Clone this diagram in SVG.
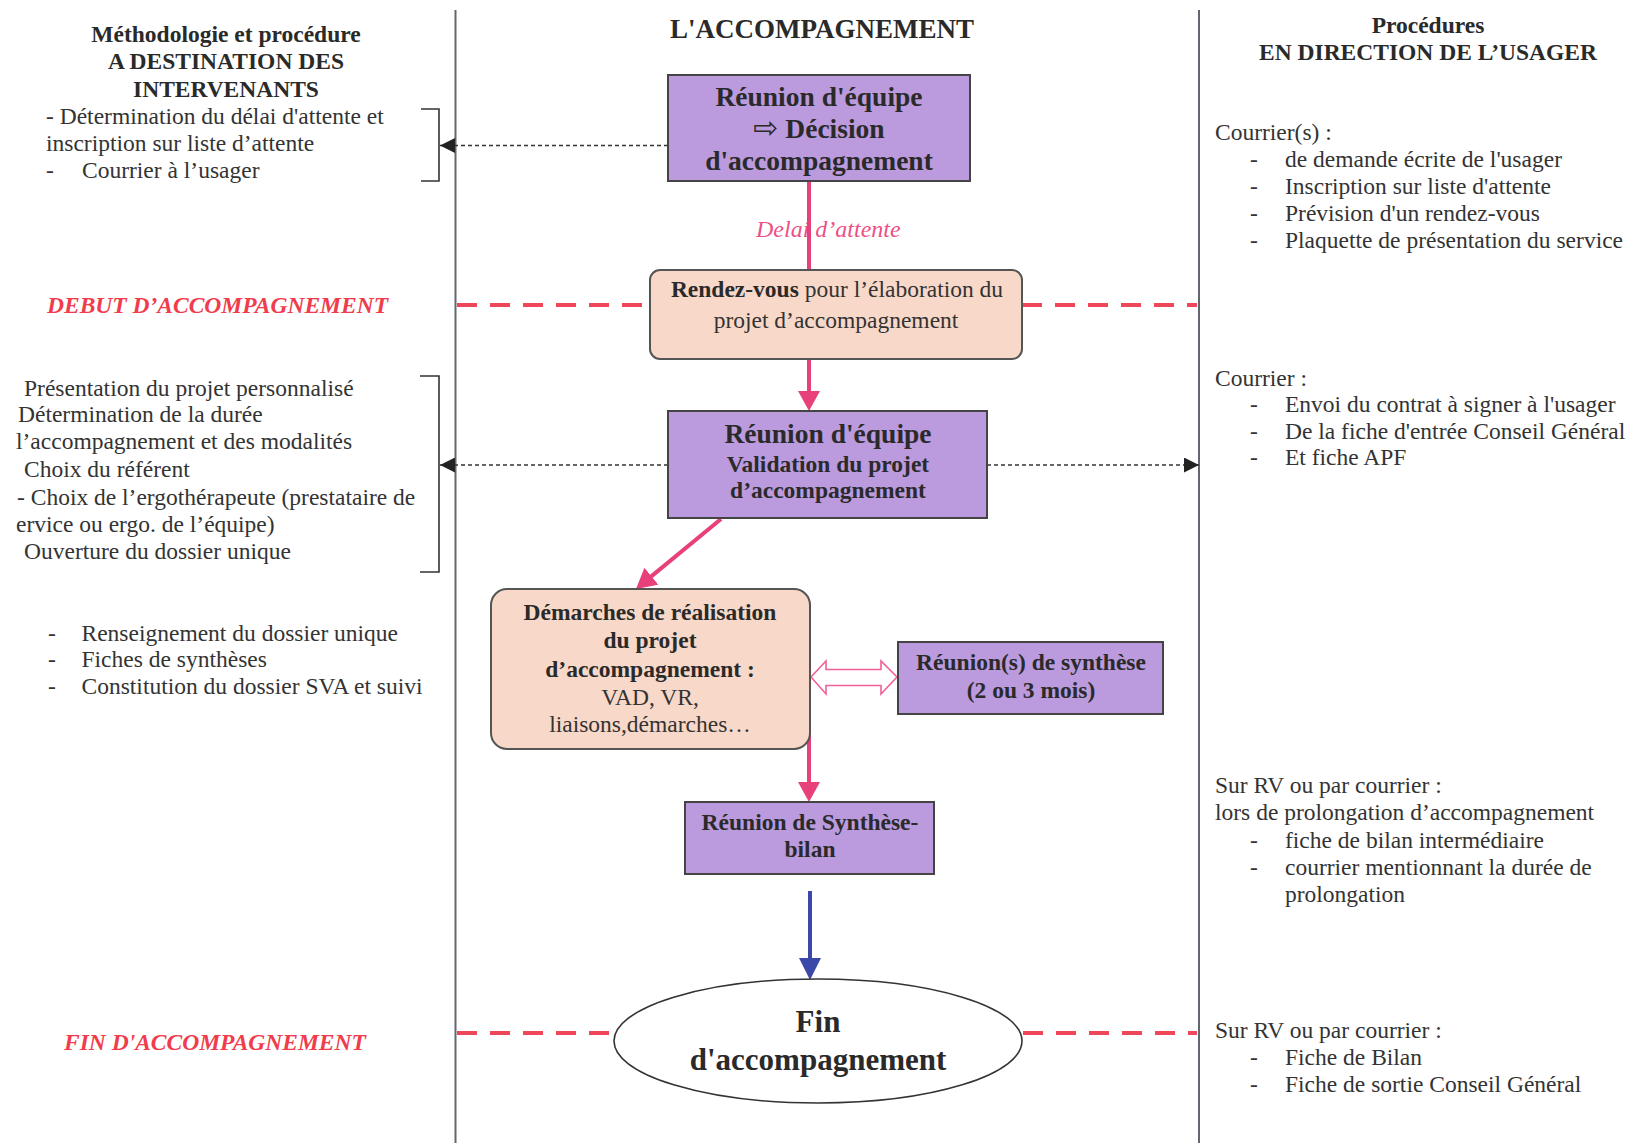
<svg xmlns="http://www.w3.org/2000/svg" width="1641" height="1143" viewBox="0 0 1641 1143">
<defs>
<style>
text{font-family:"Liberation Serif","Times New Roman",serif;fill:#333}
.r{font-size:23.5px}
.b{font-size:23.5px;font-weight:bold;fill:#2a2a2a}
.bb{font-size:27.5px;font-weight:bold;fill:#2a2a2a}
.c{text-anchor:middle}
.red{font-size:23.5px;font-weight:bold;font-style:italic;fill:#f03c4c}
.purple{fill:#bb9ade;stroke:#444;stroke-width:2}
.peach{fill:#f8d8c8;stroke:#555;stroke-width:2}
.lane{stroke:#62666f;stroke-width:2;fill:none}
.brk{stroke:#333;stroke-width:1.6;fill:none}
.dash{stroke:#333;stroke-width:1.5;stroke-dasharray:4 3;fill:none}
.reddash{stroke:#f0465a;stroke-width:4;stroke-dasharray:20 13;fill:none}
.pink{stroke:#e8407a;stroke-width:4;fill:none}
.blue{stroke:#3b48a8;stroke-width:4;fill:none}
</style>
<marker id="mPink" viewBox="0 0 20 22" refX="10" refY="11" markerWidth="20" markerHeight="22" markerUnits="userSpaceOnUse" orient="auto">
<path d="M0,0 L20,11 L0,22 z" fill="#e8407a"/>
</marker>
<marker id="mBlue" viewBox="0 0 22 22" refX="10" refY="11" markerWidth="22" markerHeight="22" markerUnits="userSpaceOnUse" orient="auto">
<path d="M0,0 L22,11 L0,22 z" fill="#3b48a8"/>
</marker>
<marker id="mBlack" viewBox="0 0 15 15" refX="15" refY="7.5" markerWidth="15" markerHeight="15" markerUnits="userSpaceOnUse" orient="auto">
<path d="M0,0 L15,7.5 L0,15 z" fill="#222"/>
</marker>
</defs>
<rect width="1641" height="1143" fill="#ffffff"/>

<g id="lanes">
<line class="lane" x1="455.5" y1="10" x2="455.5" y2="1143"/>
<line class="lane" x1="1199" y1="10" x2="1199" y2="1143"/>
</g>

<g id="left-column">
<text class="b c" x="226" y="42">Méthodologie et procédure</text>
<text class="b c" x="226" y="69">A DESTINATION DES</text>
<text class="b c" x="226" y="97">INTERVENANTS</text>
<text class="r" x="46" y="124">- Détermination du délai d'attente et</text>
<text class="r" x="46" y="151">inscription sur liste d’attente</text>
<text class="r" x="46" y="178">-</text>
<text class="r" x="82" y="178">Courrier à l’usager</text>
<path class="brk" d="M421,109 H439 V181 H421"/>

<text class="red" x="47" y="313">DEBUT D’ACCOMPAGNEMENT</text>

<text class="r" x="24" y="396">Présentation du projet personnalisé</text>
<text class="r" x="18" y="422">Détermination de la durée</text>
<text class="r" x="16" y="449">l’accompagnement et des modalités</text>
<text class="r" x="24" y="477">Choix du référent</text>
<text class="r" x="17" y="505">- Choix de l’ergothérapeute (prestataire de</text>
<text class="r" x="16" y="532">ervice ou ergo. de l’équipe)</text>
<text class="r" x="24" y="559">Ouverture du dossier unique</text>
<path class="brk" d="M420,376 H439 V572 H420"/>

<text class="r" x="48" y="641">-</text>
<text class="r" x="81.5" y="641">Renseignement du dossier unique</text>
<text class="r" x="48" y="667">-</text>
<text class="r" x="81.5" y="667">Fiches de synthèses</text>
<text class="r" x="48" y="694">-</text>
<text class="r" x="81.5" y="694">Constitution du dossier SVA et suivi</text>

<text class="red" x="64" y="1050">FIN D'ACCOMPAGNEMENT</text>
</g>

<g id="right-column">
<text class="b c" x="1428" y="33">Procédures</text>
<text class="b c" x="1428" y="60">EN DIRECTION DE L’USAGER</text>
<text class="r" x="1215" y="140">Courrier(s) :</text>
<text class="r" x="1250" y="167">-</text><text class="r" x="1285" y="167">de demande écrite de l'usager</text>
<text class="r" x="1250" y="194">-</text><text class="r" x="1285" y="194">Inscription sur liste d'attente</text>
<text class="r" x="1250" y="221">-</text><text class="r" x="1285" y="221">Prévision d'un rendez-vous</text>
<text class="r" x="1250" y="248">-</text><text class="r" x="1285" y="248">Plaquette de présentation du service</text>

<text class="r" x="1215" y="386">Courrier :</text>
<text class="r" x="1250" y="412">-</text><text class="r" x="1285" y="412">Envoi du contrat à signer à l'usager</text>
<text class="r" x="1250" y="439">-</text><text class="r" x="1285" y="439">De la fiche d'entrée Conseil Général</text>
<text class="r" x="1250" y="465">-</text><text class="r" x="1285" y="465">Et fiche APF</text>

<text class="r" x="1215" y="793">Sur RV ou par courrier :</text>
<text class="r" x="1215" y="820">lors de prolongation d’accompagnement</text>
<text class="r" x="1250" y="848">-</text><text class="r" x="1285" y="848">fiche de bilan intermédiaire</text>
<text class="r" x="1250" y="875">-</text><text class="r" x="1285" y="875">courrier mentionnant la durée de</text>
<text class="r" x="1285" y="902">prolongation</text>

<text class="r" x="1215" y="1038">Sur RV ou par courrier :</text>
<text class="r" x="1250" y="1065">-</text><text class="r" x="1285" y="1065">Fiche de Bilan</text>
<text class="r" x="1250" y="1092">-</text><text class="r" x="1285" y="1092">Fiche de sortie Conseil Général</text>
</g>

<text class="c" x="822" y="38" style="font-size:27px;font-weight:bold;fill:#2a2a2a">L'ACCOMPAGNEMENT</text>

<g id="connectors">
<line class="reddash" x1="457" y1="305" x2="650" y2="305"/>
<line class="reddash" x1="1022" y1="305" x2="1197" y2="305"/>
<line class="reddash" x1="457" y1="1033" x2="613" y2="1033"/>
<line class="reddash" x1="1023" y1="1033" x2="1197" y2="1033"/>
<line class="dash" x1="668" y1="145.5" x2="440" y2="145.5" marker-end="url(#mBlack)"/>
<line class="dash" x1="668" y1="465" x2="440" y2="465" marker-end="url(#mBlack)"/>
<line class="dash" x1="987" y1="465" x2="1199" y2="465" marker-end="url(#mBlack)"/>
<text x="756" y="237" style="font-size:24px;font-style:italic;fill:#ee4f86">Delai d’attente</text>
<line class="pink" x1="809" y1="181" x2="809" y2="270"/>
<line class="pink" x1="809" y1="359" x2="809" y2="401" marker-end="url(#mPink)"/>
<line class="pink" x1="721" y1="519" x2="643.7" y2="582.6" marker-end="url(#mPink)"/>
<line class="pink" x1="809" y1="732" x2="809" y2="792" marker-end="url(#mPink)"/>
<line class="blue" x1="810" y1="891" x2="810" y2="968" marker-end="url(#mBlue)"/>
<path d="M811,677 L826,661 L826,669.5 L881,669.5 L881,661 L897,677 L881,694 L881,685.5 L826,685.5 L826,694 z" fill="#ffffff" stroke="#f0609a" stroke-width="1.6"/>
</g>

<g id="n1">
<rect class="purple" x="668" y="75" width="302" height="106"/>
<text class="bb c" x="819" y="106">Réunion d'équipe</text>
<text class="bb c" x="819" y="138"><tspan style="font-family:'DejaVu Sans',sans-serif;font-size:30px;font-weight:normal">⇨</tspan> Décision</text>
<text class="bb c" x="819" y="170">d'accompagnement</text>
</g>

<g id="n2">
<rect class="peach" x="650" y="270" width="372" height="89" rx="10"/>
<text class="r c" x="837" y="297"><tspan font-weight="bold" fill="#2a2a2a">Rendez-vous</tspan> pour l’élaboration du</text>
<text class="r c" x="836" y="328">projet d’accompagnement</text>
</g>

<g id="n3">
<rect class="purple" x="668" y="411" width="319" height="107"/>
<text class="bb c" x="828" y="443">Réunion d'équipe</text>
<text class="b c" x="828" y="472">Validation du projet</text>
<text class="b c" x="828" y="498">d’accompagnement</text>
</g>

<g id="n4">
<rect class="peach" x="491" y="589" width="319" height="160" rx="16"/>
<text class="b c" x="650" y="620">Démarches de réalisation</text>
<text class="b c" x="650" y="648">du projet</text>
<text class="b c" x="650" y="677">d’accompagnement :</text>
<text class="r c" x="650" y="705">VAD, VR,</text>
<text class="r c" x="650" y="732">liaisons,démarches…</text>
</g>

<g id="n5">
<rect class="purple" x="898" y="642" width="265" height="72"/>
<text class="b c" x="1031" y="670">Réunion(s) de synthèse</text>
<text class="b c" x="1031" y="698">(2 ou 3 mois)</text>
</g>

<g id="n6">
<rect class="purple" x="685" y="802" width="249" height="72"/>
<text class="b c" x="810" y="830">Réunion de Synthèse-</text>
<text class="b c" x="810" y="857">bilan</text>
</g>

<g id="n7">
<ellipse cx="818" cy="1041" rx="204" ry="62" fill="#ffffff" stroke="#333" stroke-width="1.6"/>
<text class="c" x="818" y="1032" style="font-size:31px;font-weight:bold;fill:#2a2a2a">Fin</text>
<text class="c" x="818" y="1070" style="font-size:31px;font-weight:bold;fill:#2a2a2a">d'accompagnement</text>
</g>
</svg>
